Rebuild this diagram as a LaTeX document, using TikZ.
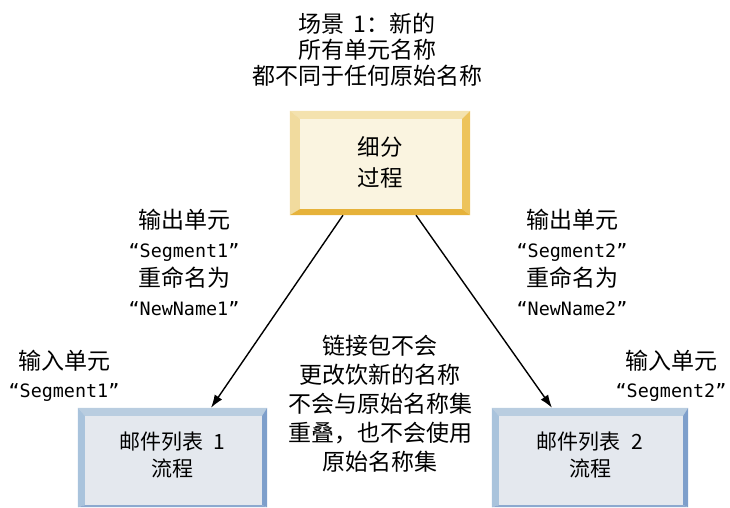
\documentclass[tikz,border=0pt]{standalone}
\usepackage{fontspec}
\setmainfont{Noto Sans CJK SC}
\newfontfamily\lat{DejaVu Sans Mono}[Scale=0.8]
\usetikzlibrary{calc,arrows.meta}
\definecolor{yface}{HTML}{FAF4E0}
\definecolor{ytop}{HTML}{F4E2AE}
\definecolor{yleft}{HTML}{F1DB9E}
\definecolor{yright}{HTML}{EDC35B}
\definecolor{ybot}{HTML}{E6B23A}
\definecolor{bface}{HTML}{E4E8EE}
\definecolor{btop}{HTML}{B9CDE0}
\definecolor{bleft}{HTML}{A9C3DC}
\definecolor{bright}{HTML}{7E9FCB}
\definecolor{bbot}{HTML}{8CA9CF}
\newcommand\drawbevel[9]{%
 \fill[#6] (#1.north west) -- (#1.north east) -- ($(#1.north east)+(-#4pt,-#2pt)$) -- ($(#1.north west)+(#3pt,-#2pt)$) -- cycle;
 \fill[#7] (#1.north west) -- ($(#1.north west)+(#3pt,-#2pt)$) -- ($(#1.south west)+(#3pt,#5pt)$) -- (#1.south west) -- cycle;
 \fill[#8] (#1.north east) -- ($(#1.north east)+(-#4pt,-#2pt)$) -- ($(#1.south east)+(-#4pt,#5pt)$) -- (#1.south east) -- cycle;
 \fill[#9] (#1.south west) -- ($(#1.south west)+(#3pt,#5pt)$) -- ($(#1.south east)+(-#4pt,#5pt)$) -- (#1.south east) -- cycle;
}
\tikzset{
  lbl/.style={align=center, inner sep=0pt, font=\fontsize{23}{29}\selectfont},
  ybox/.style={fill=yface, minimum width=180pt, minimum height=104pt, inner sep=0pt},
  bbox/.style={fill=bface, minimum height=99pt, inner sep=0pt},
  arr/.style={line width=1.4pt, -{Latex[length=13pt,width=9pt]}},
}
\begin{document}
\begin{tikzpicture}[x=1pt,y=-1pt]
\useasboundingbox (0,0) rectangle (730,508);
% title
\node[lbl, font=\fontsize{23}{26}\selectfont] (title) at (367,50) {场景\hspace{0.4em}1：新的\\所有单元名称\\都不同于任何原始名称};
% process box
\node[ybox] (proc) at (380,163) {};
\drawbevel{proc}{8}{10}{8}{6}{ytop}{yleft}{yright}{ybot}
\node[lbl, font=\fontsize{22.5}{31}\selectfont] (proct) at (380,162) {细分\\过程};
% bottom boxes
\node[bbox, minimum width=189pt] (m1) at (172.5,457.5) {};
\drawbevel{m1}{8}{7}{5}{2}{btop}{bleft}{bright}{bbot}
\node[lbl, font=\fontsize{21}{27}\selectfont] (m1t) at (172.5,454.5) {邮件列表\hspace{0.5em}1\\流程};
\node[bbox, minimum width=196pt] (m2) at (590,457.5) {};
\drawbevel{m2}{8}{7}{5}{2}{btop}{bleft}{bright}{bbot}
\node[lbl, font=\fontsize{21}{27}\selectfont] (m2t) at (590,454.5) {邮件列表\hspace{0.5em}2\\流程};
% labels
\node[lbl] (out1) at (184,262.5) {输出单元\\{\lat “Segment1”}\\重命名为\\{\lat “NewName1”}};
\node[lbl] (out2) at (572,262.5) {输出单元\\{\lat “Segment2”}\\重命名为\\{\lat “NewName2”}};
\node[lbl, font=\fontsize{23}{28}\selectfont] (in1) at (64,376) {输入单元\\{\lat “Segment1”}};
\node[lbl, font=\fontsize{23}{28}\selectfont] (in2) at (671,376) {输入单元\\{\lat “Segment2”}};
\node[lbl] (mid) at (380,404) {链接包不会\\更改饮新的名称\\不会与原始名称集\\重叠，也不会使用\\原始名称集};
% arrows
\coordinate (s1) at ($(proc.south)+(-37pt,0pt)$);
\coordinate (s2) at ($(proc.south)+(36pt,0pt)$);
\coordinate (e1) at ($(m1.north)+(38.5pt,0pt)$);
\coordinate (e2) at ($(m2.north)+(-38pt,0pt)$);
\draw[arr] (s1) -- (e1);
\draw[arr] (s2) -- (e2);
\end{tikzpicture}
\end{document}
